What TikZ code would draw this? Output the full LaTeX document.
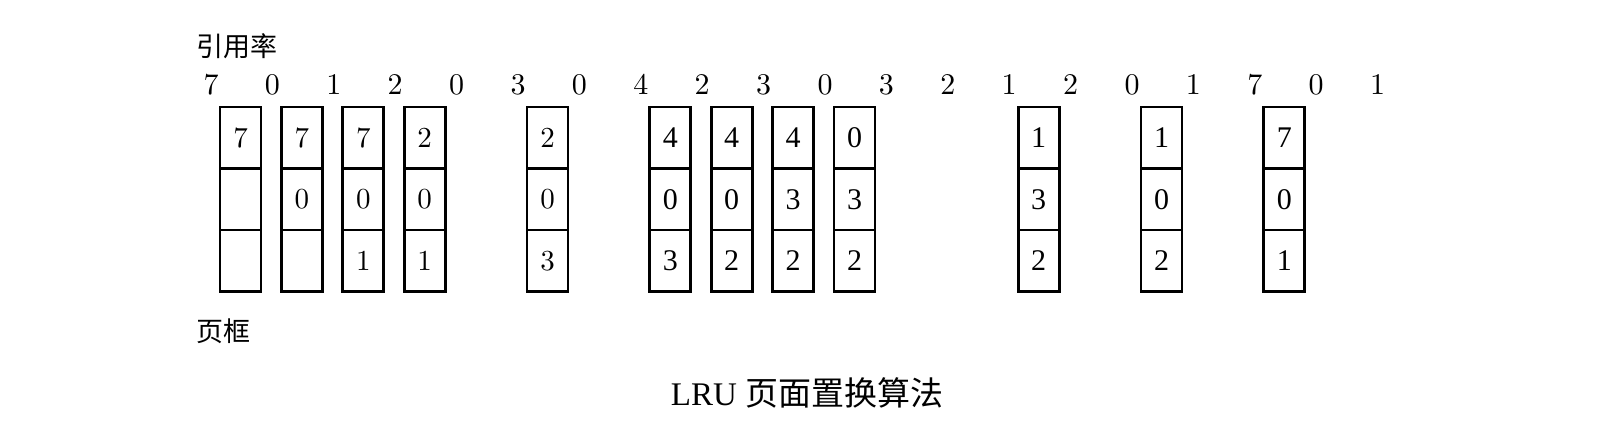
\documentclass[tikz,border=0pt]{standalone}
\usepackage{fontspec}
\newfontfamily\cjk{Noto Sans CJK SC}
\newfontfamily\timesfont{Liberation Serif}
\newfontfamily\lmten{lmroman10-regular}[Extension=.otf]
\usetikzlibrary{positioning}

\begin{document}
\begin{tikzpicture}[
  x=1pt, y=-1pt,
  node distance=0pt,
  refnum/.style={anchor=base,inner sep=0pt,font=\fontsize{30}{30}\selectfont\lmten},
  cell/.style={draw,line width=2.8pt,minimum width=41pt,minimum height=61.5pt,inner sep=0pt,outer sep=0pt},
  lmcell/.style={cell,font=\fontsize{29}{29}\selectfont\lmten},
  tmcell/.style={cell,font=\fontsize{30}{30}\selectfont\timesfont},
  cjklabel/.style={anchor=west,inner sep=0pt,font=\fontsize{27}{27}\selectfont\cjk},
  caption/.style={inner sep=0pt,font=\fontsize{33}{33}\selectfont}
]
\useasboundingbox (0,0) rectangle (1598,443);

\node[cjklabel] (rate) at (196,46) {引用率};
\node[cjklabel] (frame) at (196,331) {页框};

% reference string
\foreach \v [count=\i from 0] in {7,0,1,2,0,3,0,4,2,3,0,3,2,1,2,0,1,7,0,1}
  \node[refnum] (r\i) at ({211+61.4*\i},95) {\v};

% page frames after each fault
\foreach \i/\a/\b/\c in {0/7//,1/7/0/,2/7/0/1,3/2/0/1,5/2/0/3}{
  \node[lmcell] (c\i-1) at ({240.5+61.4*\i},137.75) {\a};
  \node[lmcell,below=of c\i-1] (c\i-2) {\b};
  \node[lmcell,below=of c\i-2] (c\i-3) {\c};
}
\foreach \i/\a/\b/\c in {7/4/0/3,8/4/0/2,9/4/3/2,10/0/3/2,13/1/3/2,15/1/0/2,17/7/0/1}{
  \node[tmcell] (c\i-1) at ({240.5+61.4*\i},137.75) {\a};
  \node[tmcell,below=of c\i-1] (c\i-2) {\b};
  \node[tmcell,below=of c\i-2] (c\i-3) {\c};
}

\node[caption] (title) at (807,393) {\timesfont LRU \cjk 页面置换算法};
\end{tikzpicture}
\end{document}
